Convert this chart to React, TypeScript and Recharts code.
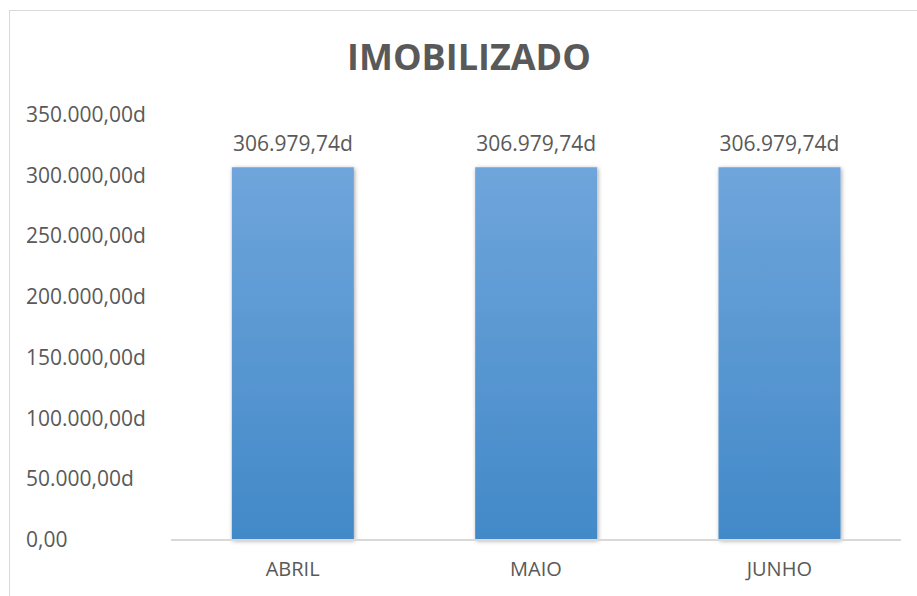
import { BarChart, Bar, XAxis, YAxis, LabelList } from 'recharts';

const months = ['ABRIL', 'MAIO', 'JUNHO'];
const values = [306979.74, 306979.74, 306979.74];
const yTicks = [0, 50000, 100000, 150000, 200000, 250000, 300000, 350000];

const FONT = '"Open Sans", "DejaVu Sans", sans-serif';
const TEXT = '#595959';

const fmt = (v: number) =>
  v.toLocaleString('de-DE', { minimumFractionDigits: 2, maximumFractionDigits: 2 });

const data = months.map((m, i) => ({ name: m, value: values[i] }));

// y labels are left-aligned in the original, so draw them by hand
function YTick({ y, payload }: any) {
  const v = payload.value as number;
  return (
    <text x={26} y={y} dy={7} textAnchor="start" fill={TEXT} fontSize={21} fontFamily={FONT}>
      {v === 0 ? fmt(v) : fmt(v) + 'd'}
    </text>
  );
}

export default function App() {
  return (
    <div style={{ position: 'absolute', left: 0, top: 0, width: 917, height: 596, background: '#fff', overflow: 'hidden' }}>
      <div
        style={{
          position: 'absolute',
          left: 9,
          top: 10,
          width: 920,
          height: 600,
          border: '1px solid #D9D9D9',
          boxSizing: 'border-box',
        }}
      />
      <div
        style={{
          position: 'absolute',
          left: 0,
          top: 32,
          width: 938,
          textAlign: 'center',
          fontFamily: FONT,
          fontWeight: 700,
          fontSize: 36,
          color: TEXT,
          lineHeight: '50px',
        }}
      >
        IMOBILIZADO
      </div>
      <BarChart
        width={917}
        height={596}
        data={data}
        margin={{ top: 115, right: 16, bottom: 26, left: 0 }}
        barCategoryGap="25%"
        style={{ position: 'absolute', left: 0, top: 0 }}
      >
        <defs>
          <linearGradient id="barFill" x1="0" y1="0" x2="0" y2="1">
            <stop offset="0%" stopColor="#6FA5DB" />
            <stop offset="100%" stopColor="#4289C8" />
          </linearGradient>
          <filter id="barShadow" x="-10%" y="-10%" width="120%" height="120%">
            <feDropShadow dx="1" dy="1" stdDeviation="2" floodColor="#000" floodOpacity="0.35" />
          </filter>
        </defs>
        <XAxis
          dataKey="name"
          axisLine={{ stroke: '#D9D9D9', strokeWidth: 2 }}
          tickLine={false}
          tick={{ fill: TEXT, fontSize: 20, fontFamily: FONT }}
          tickMargin={16}
        />
        <YAxis
          width={171}
          domain={[0, 350000]}
          ticks={yTicks}
          axisLine={false}
          tickLine={false}
          tick={<YTick />}
        />
        <Bar dataKey="value" fill="url(#barFill)" filter="url(#barShadow)" isAnimationActive={false}>
          <LabelList
            dataKey="value"
            position="top"
            offset={16}
            formatter={(v: any) => fmt(Number(v)) + 'd'}
            style={{ fill: TEXT, fontSize: 21, fontFamily: FONT }}
          />
        </Bar>
      </BarChart>
    </div>
  );
}
